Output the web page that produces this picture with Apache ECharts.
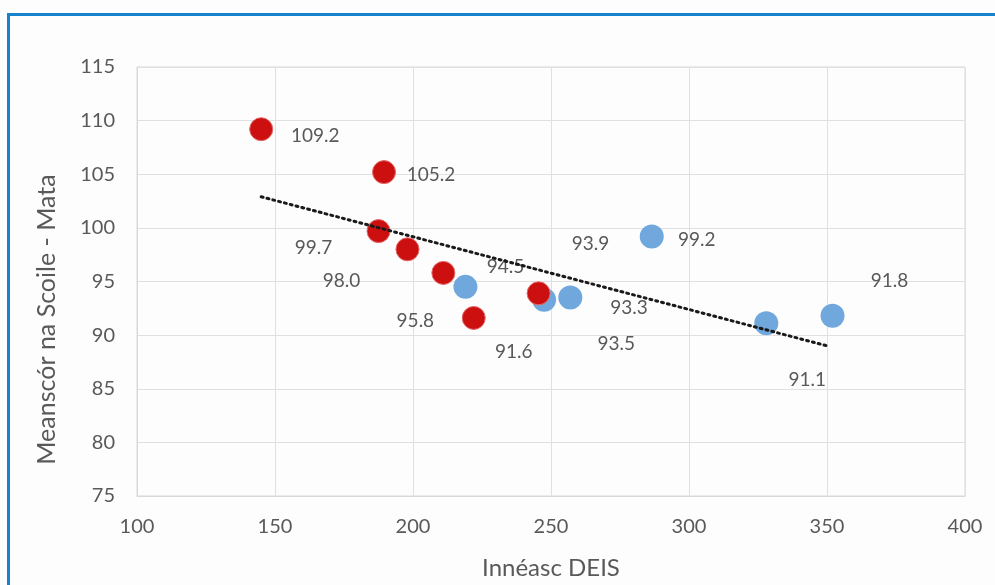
<!DOCTYPE html>
<html>
<head>
<meta charset="utf-8">
<script src="https://cdn.jsdelivr.net/npm/echarts@6/dist/echarts.min.js"></script>
<style>
html,body{margin:0;padding:0;background:#fdfdfd;}
#c{width:995px;height:585px;}
</style>
</head>
<body>
<div id="c"></div>
<script>
// Red group (DEIS index, mean score)
const redX = [145, 189.5, 187.5, 198, 211, 222, 245.5];
const redY = [109.2, 105.2, 99.7, 98.0, 95.8, 91.6, 93.9];
// Blue group
const blueX = [219, 247.5, 257, 286.5, 328, 352];
const blueY = [94.5, 93.3, 93.5, 99.2, 91.1, 91.8];
// Trend line endpoints
const trendX = [145, 350];
const trendY = [102.9, 89.0];
// Label offsets (pixels) – placement as in the picture
const redLabelOffsets = [[54,7],[47,3],[-65,17],[-66,32],[-28,48],[40,34],[52,-49]];
const blueLabelOffsets = [[40,-20],[85,8],[46,46],[45,3],[41,57],[57,-35]];
const xTicks = [100,150,200,250,300,350,400];
const yTicks = [75,80,85,90,95,100,105,110,115];

const FONT = 'Lato, "Open Sans", sans-serif';
const labelStyle = {color:'#595959', fontSize:19, fontFamily:FONT};

function pts(xs, ys, offs){
  return xs.map((x,i)=>({
    value:[x, ys[i]],
    label:{show:true, position:'inside', offset:offs[i], formatter: ys[i].toFixed(1), ...labelStyle}
  }));
}

const chart = echarts.init(document.getElementById('c'), null, {renderer:'canvas'});
chart.setOption({
  backgroundColor:'#fdfdfd',
  animation:false,
  graphic:[{
    type:'rect', left:6, top:12, shape:{x:0,y:0,width:1000,height:600},
    style:{fill:'none', stroke:'#1683cc', lineWidth:3}, z:-1
  }],
  grid:{left:137, right:30, top:67, bottom:89, show:true, borderColor:'#d9d9d9', borderWidth:1},
  xAxis:{
    type:'value', min:xTicks[0], max:xTicks[xTicks.length-1], interval:50,
    name:'Innéasc DEIS', nameLocation:'middle', nameGap:60,
    nameTextStyle:{color:'#595959', fontSize:24, fontFamily:FONT},
    axisLine:{show:true, lineStyle:{color:'#d9d9d9'}},
    axisTick:{show:false},
    axisLabel:{color:'#595959', fontSize:20, fontFamily:FONT, margin:21},
    splitLine:{show:true, lineStyle:{color:'#e0e0e0', width:1}}
  },
  yAxis:{
    type:'value', min:yTicks[0], max:yTicks[yTicks.length-1], interval:5,
    name:'Meanscór na Scoile - Mata', nameLocation:'middle', nameGap:78,
    nameTextStyle:{color:'#595959', fontSize:25, fontFamily:FONT, padding:[0,76,0,0]},
    axisLine:{show:true, lineStyle:{color:'#d9d9d9'}},
    axisTick:{show:false},
    axisLabel:{color:'#595959', fontSize:20, fontFamily:FONT, margin:22},
    splitLine:{show:true, lineStyle:{color:'#e0e0e0', width:1}}
  },
  series:[
    {
      type:'scatter', name:'blue', symbolSize:24, z:2,
      itemStyle:{color:'#70a8de', opacity:1},
      data:pts(blueX, blueY, blueLabelOffsets)
    },
    {
      type:'scatter', name:'red', symbolSize:23, z:3,
      itemStyle:{color:'#cc1010', borderColor:'#e46a6a', borderWidth:1, opacity:1},
      data:pts(redX, redY, redLabelOffsets)
    },
    {
      type:'line', name:'trend', z:4, symbol:'none', silent:true,
      lineStyle:{color:'#1a1a1a', width:3, type:[2,4], cap:'round'},
      data:trendX.map((x,i)=>[x, trendY[i]])
    }
  ]
});
</script>
</body>
</html>
